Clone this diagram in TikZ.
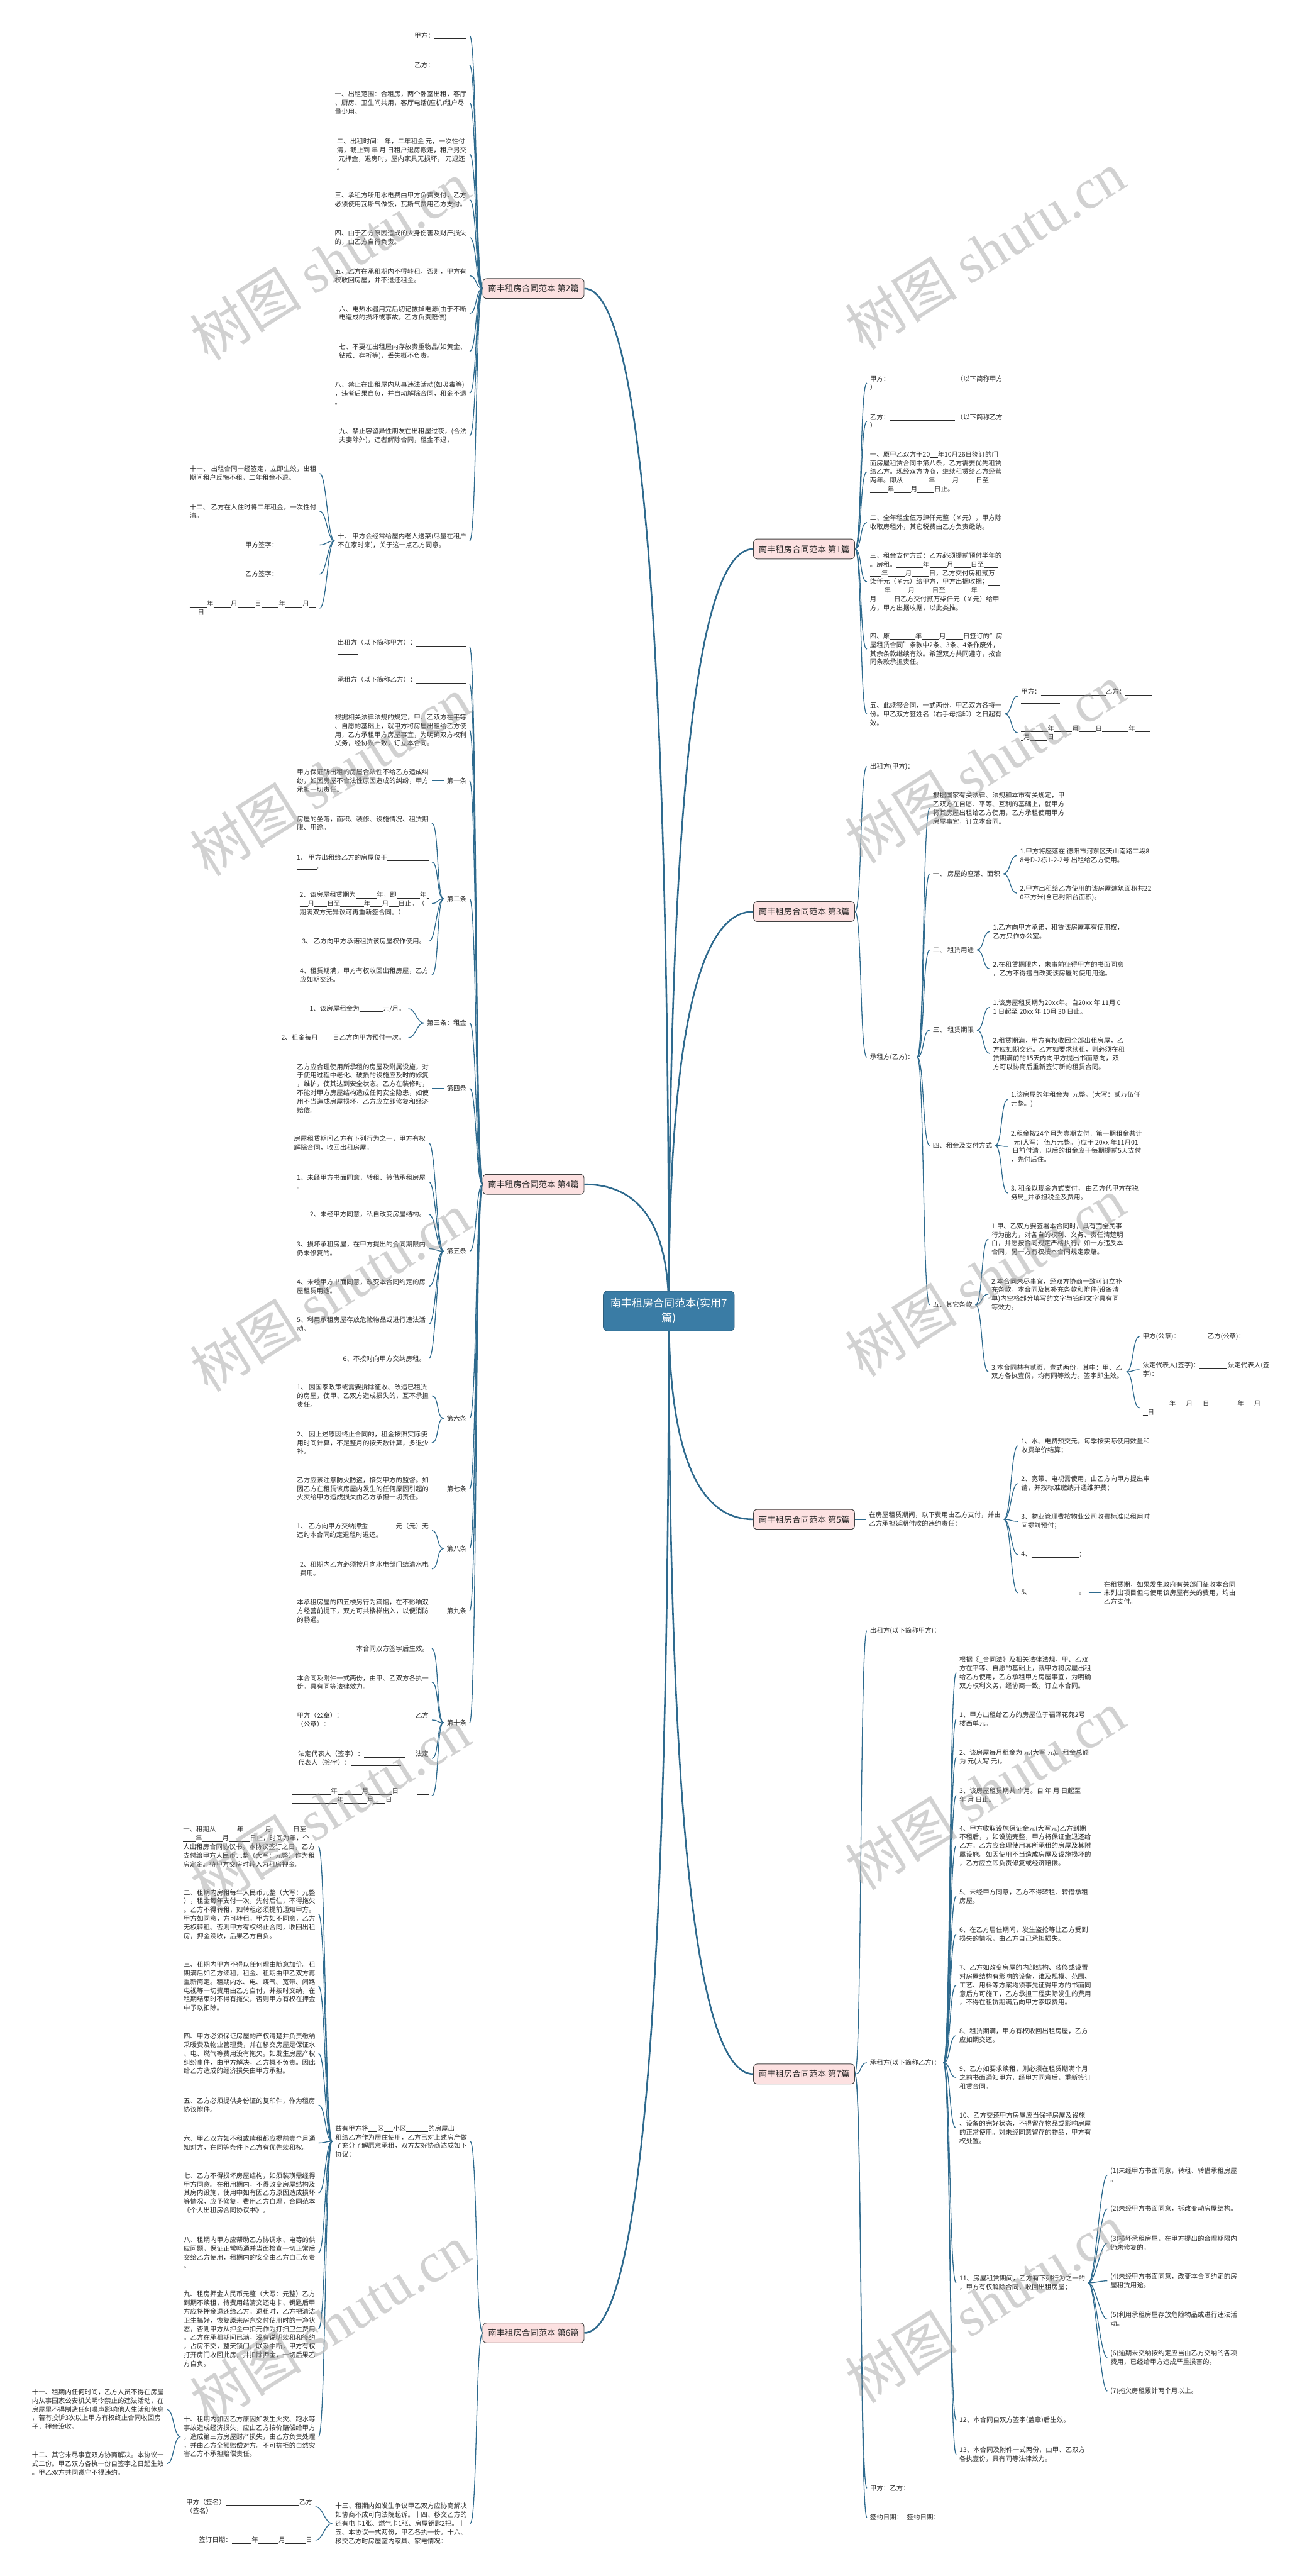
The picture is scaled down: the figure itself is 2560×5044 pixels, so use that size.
\documentclass[tikz,border=0pt]{standalone}
\usepackage{fontspec}
\setmainfont{Noto Sans CJK SC}
\newfontfamily\wmserif{Liberation Serif}
\usetikzlibrary{calc}
\pgfdeclarelayer{bg}
\pgfsetlayers{bg,main}
\definecolor{linec}{HTML}{2E6A8E}
\definecolor{pinkc}{HTML}{FCE1E1}
\definecolor{bluec}{HTML}{3A7CA5}
\definecolor{textc}{HTML}{2B2B2B}
\definecolor{wmc}{HTML}{9A9A9A}
\newcommand\bl[1]{\rule[-2pt]{#1pt}{0.8pt}}
\newcommand\lk[2]{\draw[conn] (#1.west) .. controls +(-14,0) and +(14,0) .. (#2.east);}
\newcommand\rk[2]{\draw[conn] (#1.east) .. controls +(14,0) and +(-14,0) .. (#2.west);}
\newcommand\cnl[1]{\draw[mconn] (#1.east) .. controls ($(#1.east)!0.667!(#1.east -| cc.center)$) and ($(cc.center)!0.667!(#1.east -| cc.center)$) .. (cc.center);}
\newcommand\cnr[1]{\draw[mconn] (#1.west) .. controls ($(#1.west)!0.667!(#1.west -| cc.center)$) and ($(cc.center)!0.667!(#1.west -| cc.center)$) .. (cc.center);}
\tikzset{
  txt/.style={font=\fontsize{12.9}{17}\selectfont, text=textc, align=left, inner xsep=6pt, inner ysep=1pt},
  lft/.style={txt, anchor=east},
  rgt/.style={txt, anchor=west},
  branch/.style={draw=black!75, line width=1.2pt, fill=pinkc, rounded corners=7pt, minimum width=198pt, minimum height=39pt, inner sep=4pt, font=\fontsize{16.5}{20}\selectfont, text=black!85},
  cnode/.style={fill=bluec, draw=bluec!75!black, line width=1pt, rounded corners=8pt, text=white, align=center, inner xsep=14pt, inner ysep=14pt, font=\fontsize{21}{28}\selectfont},
  conn/.style={draw=linec, line width=1.6pt},
  mconn/.style={draw=linec, line width=3.2pt},
  wm/.style={text=wmc, opacity=0.45, rotate=32, font=\fontsize{110}{120}\selectfont}
}
\begin{document}
\begin{tikzpicture}[x=1pt,y=-1pt]
\useasboundingbox (0,0) rectangle (2560,5044);
\begin{pgfonlayer}{bg}
\fill[white] (0,0) rectangle (2560,5044);
\end{pgfonlayer}
% ---------- centre and branches
\node[cnode] (cc) at (1310,2567) {南丰租房合同范本(实用7\\篇)};
\node[branch] (b2) at (1045,565) {南丰租房合同范本 第2篇};
\node[branch] (b4) at (1045,2319) {南丰租房合同范本 第4篇};
\node[branch] (b6) at (1045,4568) {南丰租房合同范本 第6篇};
\node[branch] (b1) at (1575,1075) {南丰租房合同范本 第1篇};
\node[branch] (b3) at (1575,1785) {南丰租房合同范本 第3篇};
\node[branch] (b5) at (1575,2975) {南丰租房合同范本 第5篇};
\node[branch] (b7) at (1575,4061) {南丰租房合同范本 第7篇};
% ---------- 第2篇
\node[lft] (a1) at (920,70) {甲方：\bl{63}};
\node[lft] (a2) at (920,128) {乙方：\bl{63}};
\node[lft] (a3) at (920,201) {一、出租范围：合租房，两个卧室出租，客厅\\、厨房、卫生间共用，客厅电话(座机)租户尽\\量少用。};
\node[lft] (a4) at (920,302) {二、出租时间： 年，二年租金 元，一次性付\\清，截止到 年 月 日租户退房搬走，租户另交\\~元押金，退房时，屋内家具无损坏， 元退还\\。};
\node[lft] (a5) at (920,391) {三、承租方所用水电费由甲方负责支付，乙方\\必须使用瓦斯气做饭，瓦斯气费用乙方支付。};
\node[lft] (a6) at (920,465) {四、由于乙方原因造成的人身伤害及财产损失\\的，由乙方自行负责。};
\node[lft] (a7) at (920,540) {五、乙方在承租期内不得转租，否则，甲方有\\权收回房屋，并不退还租金。};
\node[lft] (a8) at (920,614) {六、电热水器用完后切记拔掉电源(由于不断\\电造成的损坏或事故，乙方负责赔偿)};
\node[lft] (a9) at (920,688) {七、不要在出租屋内存放贵重物品(如黄金、\\钻戒、存折等)，丢失概不负责。};
\node[lft] (a10) at (920,770) {八、禁止在出租屋内从事违法活动(如吸毒等)\\，违者后果自负，并自动解除合同，租金不退\\。};
\node[lft] (a11) at (920,853) {九、禁止容留异性朋友在出租屋过夜，(合法\\夫妻除外)，违者解除合同，租金不退，};
\node[lft] (a12) at (920,1059) {十、 甲方会经常给屋内老人送菜(尽量在租户\\不在家时来)，关于这一点乙方同意。};
\node[lft] (a13) at (626,927) {十一、 出租合同一经签定，立即生效，出租\\期间租户反悔不租，二年租金不退。};
\node[lft] (a14) at (626,1001) {十二、 乙方在入住时将二年租金，一次性付\\清。};
\node[lft] (a15) at (626,1067) {甲方签字：\bl{75}};
\node[lft] (a16) at (626,1124) {乙方签字：\bl{75}};
\node[lft] (a17) at (626,1191) {\bl{34}年\bl{34}月\bl{34}日\bl{34}年\bl{34}月\bl{14}\\\bl{16}日};
% ---------- 第4篇
\node[lft] (d1) at (920,1267) {出租方（以下简称甲方）：\bl{98}\\\bl{40}};
\node[lft] (d2) at (920,1340) {承租方（以下简称乙方）：\bl{98}\\\bl{40}};
\node[lft] (d3) at (920,1430) {根据相关法律法规的规定，甲、乙双方在平等\\、自愿的基础上，就甲方将房屋出租给乙方使\\用，乙方承租甲方房屋事宜，为明确双方权利\\义务，经协议一致，订立本合同。};
\node[lft] (t1) at (920,1529) {第一条};
\node[lft] (t2) at (920,1760) {第二条};
\node[lft] (t3) at (920,2003) {第三条：租金};
\node[lft] (t4) at (920,2131) {第四条};
\node[lft] (t5) at (920,2450) {第五条};
\node[lft] (t6) at (920,2777) {第六条};
\node[lft] (t7) at (920,2915) {第七条};
\node[lft] (t8) at (920,3032) {第八条};
\node[lft] (t9) at (920,3154) {第九条};
\node[lft] (t10) at (920,3373) {第十条};
\node[lft] (t1a) at (846,1529) {甲方保证所出租的房屋合法性不给乙方造成纠\\纷，如因房屋不合法性原因造成的纠纷，甲方\\承担一切责任。};
\node[lft] (t2a) at (846,1612) {房屋的坐落，面积、装修、设施情况、租赁期\\限、用途。};
\node[lft] (t2b) at (846,1688) {1、 甲方出租给乙方的房屋位于\bl{81}\\\bl{40}。};
\node[lft] (t2c) at (846,1769) {2、该房屋租赁期为\bl{41}年，即\bl{46}年\bl{4}\\\bl{16}月\bl{25}日至\bl{46}年\bl{23}月\bl{19}日止。（\\期满双方无异议可再重新签合同。）};
\node[lft] (t2d) at (840,1843) {3、 乙方向甲方承诺租赁该房屋权作使用。};
\node[lft] (t2e) at (846,1909) {4、租赁期满，甲方有权收回出租房屋，乙方\\应如期交还。};
\node[lft] (t3a) at (800,1975) {1、该房屋租金为\bl{46}元/月。};
\node[lft] (t3b) at (800,2032) {2、租金每月\bl{29}日乙方向甲方预付一次。};
\node[lft] (t4a) at (846,2131) {乙方应合理使用所承租的房屋及附属设施，对\\于使用过程中老化、破损的设施应及时的修复\\，维护，使其达到安全状态。乙方在装修时，\\不能对甲方房屋结构造成任何安全隐患，如使\\用不当造成房屋损坏，乙方应立即修复和经济\\赔偿。};
\node[lft] (t5a) at (840,2238) {房屋租赁期间乙方有下列行为之一，甲方有权\\解除合同，收回出租房屋。};
\node[lft] (t5b) at (840,2314) {1、未经甲方书面同意，转租、转借承租房屋\\。};
\node[lft] (t5c) at (840,2378) {2、未经甲方同意，私自改变房屋结构。};
\node[lft] (t5d) at (840,2445) {3、损坏承租房屋，在甲方提出的合同期限内\\仍未修复的。};
\node[lft] (t5e) at (840,2519) {4、未经甲方书面同意，改变本合同约定的房\\屋租赁用途。};
\node[lft] (t5f) at (840,2593) {5、利用承租房屋存放危险物品或进行违法活\\动。};
\node[lft] (t5g) at (840,2660) {6、不按时向甲方交纳房租。};
\node[lft] (t6a) at (846,2733) {1、 因国家政策或需要拆除征收、改造已租赁\\的房屋，使甲、乙双方造成损失的，互不承担\\责任。};
\node[lft] (t6b) at (846,2825) {2、 因上述原因终止合同的，租金按照实际使\\用时间计算，不足整月的按天数计算，多退少\\补。};
\node[lft] (t7a) at (846,2915) {乙方应该注意防火防盗，接受甲方的监督。如\\因乙方在租赁该房屋内发生的任何原因引起的\\火灾给甲方造成损失由乙方承担一切责任。};
\node[lft] (t8a) at (846,2997) {1、 乙方向甲方交纳押金 \bl{52}元（元）无\\违约本合同约定退租时退还。};
\node[lft] (t8b) at (846,3072) {2、租期内乙方必须按月向水电部门结清水电\\费用。};
\node[lft] (t9a) at (846,3154) {本承租房屋的四五楼另行为宾馆，在不影响双\\方经营前提下，双方可共楼梯出入，以便消防\\的畅通。};
\node[lft] (t10a) at (846,3228) {本合同双方签字后生效。};
\node[lft] (t10b) at (846,3294) {本合同及附件一式两份，由甲、乙双方各执一\\份。具有同等法律效力。};
\node[lft] (t10c) at (846,3368) {甲方（公章）：\bl{122}\hspace{20pt}乙方\\（公章）：\bl{133}};
\node[lft] (t10d) at (846,3443) {法定代表人（签字）：\bl{81}\hspace{20pt}法定\\代表人（签字）：\bl{99}};
\node[lft] (t10e) at (846,3516) {\bl{75}年\bl{48}月\bl{46}日\hspace{36pt}\bl{23}\\\bl{87}年\bl{46}月\bl{23}日};
% ---------- 第6篇
\node[lft] (f1) at (921,4193) {兹有甲方将\bl{18}区\bl{18}小区\bl{43}的房屋出\\租给乙方作为居住使用，乙方已对上述房产做\\了充分了解愿意承租，双方友好协商达成如下\\协议：};
\node[lft] (f2) at (921,4941) {十三、租期内如发生争议甲乙双方应协商解决\\如协商不成可向法院起诉。十四、移交乙方的\\还有电卡1张、燃气卡1张、房屋钥匙2把。十\\五、本协议一式两份，甲乙各执一份。十六、\\移交乙方时房屋室内家具、家电情况：};
\node[lft] (g1) at (624,3616) {一、租期从\bl{41}年\bl{42}月\bl{42}日至\bl{18}\\\bl{24}年\bl{40}月\bl{41}日止，时间为年，个\\人出租房合同协议书。本协议签订之日，乙方\\支付给甲方人民币元整（大写：元整）作为租\\房定金。待甲方交房时转入为租房押金。};
\node[lft] (g2) at (624,3748) {二、租期内房租每年人民币元整（大写：元整\\），租金每年支付一次，先付后住，不得拖欠\\。乙方不得转租，如转租必须提前通知甲方。\\甲方如同意，方可转租。甲方如不同意，乙方\\无权转租。否则甲方有权终止合同，收回出租\\房，押金没收，后果乙方自负。};
\node[lft] (g3) at (624,3889) {三、租期内甲方不得以任何理由随意加价。租\\期满后如乙方续租，租金、租期由甲乙双方再\\重新商定。租期内水、电、煤气、宽带、闭路\\电视等一切费用由乙方自付，并按时交纳，在\\租期结束时不得有拖欠，否则甲方有权在押金\\中予以扣除。};
\node[lft] (g4) at (624,4021) {四、甲方必须保证房屋的产权清楚并负责缴纳\\采暖费及物业管理费，并在移交房屋是保证水\\、电、燃气等费用没有拖欠。如发生房屋产权\\纠纷事件，由甲方解决，乙方概不负责。因此\\给乙方造成的经济损失由甲方承担。};
\node[lft] (g5) at (624,4122) {五、乙方必须提供身份证的复印件，作为租房\\协议附件。};
\node[lft] (g6) at (624,4196) {六、甲乙双方如不租或续租都应提前壹个月通\\知对方，在同等条件下乙方有优先续租权。};
\node[lft] (g7) at (624,4294) {七、乙方不得损坏房屋结构，如须装璜需经得\\甲方同意。在租用期内，不得改变房屋结构及\\其房内设施，使用中如有因乙方原因造成损坏\\等情况，应予修复，费用乙方自理，合同范本\\《个人出租房合同协议书》。};
\node[lft] (g8) at (624,4411) {八、租期内甲方应帮助乙方协调水、电等的供\\应问题，保证正常畅通并当面检查一切正常后\\交给乙方使用，租期内的安全由乙方自己负责\\。};
\node[lft] (g9) at (624,4560) {九、租房押金人民币元整（大写：元整）乙方\\到期不续租，待费用结清交还电卡、钥匙后甲\\方应将押金退还给乙方。退租时，乙方把清洁\\卫生搞好，恢复原来房东交付使用时的干净状\\态，否则甲方从押金中扣元作为打扫卫生费用\\。乙方在承租期间已满，没有说明续租和签约\\，占房不交，整天锁门，联系中断，甲方有权\\打开房门收回此房，并扣除押金，一切后果乙\\方自负。};
\node[lft] (g10) at (624,4771) {十、租期内如因乙方原因如发生火灾、跑水等\\事故造成经济损失，应由乙方按价赔偿给甲方\\，造成第三方房屋财产损失，由乙方负责处理\\，并由乙方全额赔偿对方。不可抗拒的自然灾\\害乙方不承担赔偿责任。};
\node[lft] (h1) at (327,4718) {十一、租期内任何时间，乙方人员不得在房屋\\内从事国家公安机关明令禁止的违法活动，在\\房屋里不得制造任何噪声影响他人生活和休息\\，若有投诉3次以上甲方有权终止合同收回房\\子，押金没收。};
\node[lft] (h2) at (327,4824) {十二、其它未尽事宜双方协商解决。本协议一\\式二份。甲乙双方各执一份自签字之日起生效\\。甲乙双方共同遵守不得违约。};
\node[lft] (k1) at (618,4908) {甲方（签名）\bl{144}乙方\\（签名）\bl{146}};
\node[lft] (k2) at (618,4974) {签订日期：\bl{39}年\bl{40}月\bl{40}日};
% ---------- 第1篇
\node[rgt] (p1) at (1698,750) {甲方：\bl{128} （以下简称甲方\\）};
\node[rgt] (p2) at (1698,825) {乙方：\bl{128} （以下简称乙方\\）};
\node[rgt] (p3) at (1698,924) {一、原甲乙双方于20\bl{15}年10月26日签订的门\\面房屋租赁合同中第八条，乙方需要优先租赁\\给乙方。现经双方协商，继续租赁给乙方经营\\两年。即从\bl{50}年\bl{34}月\bl{33}日至\bl{16}\\\bl{34}年\bl{33}月\bl{33}日止。};
\node[rgt] (p4) at (1698,1023) {二、全年租金伍万肆仟元整（￥元），甲方除\\收取房租外，其它税费由乙方负责缴纳。};
\node[rgt] (p5) at (1698,1139) {三、租金支付方式：乙方必须提前预付半年的\\。房租。\bl{52}年\bl{34}月\bl{34}日至\bl{28}\\\bl{22}年\bl{34}月\bl{34}日，乙方交付房租贰万\\柒仟元（￥元）给甲方，甲方出据收据；\bl{22}\\\bl{28}年\bl{34}月\bl{34}日至\bl{50}年\bl{34}\\月\bl{34}日乙方交付贰万柒仟元（￥元）给甲\\方，甲方出据收据，以此类推。};
\node[rgt] (p6) at (1698,1271) {四、原\bl{50}年\bl{34}月\bl{34}日签订的"房\\屋租赁合同"条款中2条、3条、4条作废外，\\其余条款继续有效。希望双方共同遵守，按合\\同条款承担责任。};
\node[rgt] (p7) at (1698,1398) {五、此续签合同，一式两份，甲乙双方各持一\\份。甲乙双方签姓名（右手母指印）之日起有\\效。};
\node[rgt] (p7a) at (1994,1363) {甲方：\bl{127}乙方：\bl{53}\\\bl{76}};
\node[rgt] (p7b) at (1994,1435) {\bl{52}年\bl{35}月\bl{33}日\bl{52}年\bl{28}\\\bl{5}月\bl{34}日};
% ---------- 第3篇
\node[rgt] (q1) at (1698,1501) {出租方(甲方)：};
\node[rgt] (q2) at (1698,2070) {承租方(乙方)：};
\node[rgt] (q3) at (1821,1583) {根据国家有关法律、法规和本市有关规定，甲\\乙双方在自愿、平等、互利的基础上，就甲方\\将其房屋出租给乙方使用，乙方承租使用甲方\\房屋事宜，订立本合同。};
\node[rgt] (q4) at (1821,1711) {一、 房屋的座落、面积};
\node[rgt] (q5) at (1821,1860) {二、 租赁用途};
\node[rgt] (q6) at (1821,2017) {三、 租赁期限};
\node[rgt] (q7) at (1821,2243) {四、租金及支付方式};
\node[rgt] (q8) at (1821,2555) {五、其它条款};
\node[rgt] (q4a) at (1992,1675) {1.甲方将座落在 德阳市河东区天山南路二段8\\8号D-2栋1-2-2号 出租给乙方使用。};
\node[rgt] (q4b) at (1992,1749) {2.甲方出租给乙方使用的该房屋建筑面积共22\\0平方米(含已封阳台面积)。};
\node[rgt] (q5a) at (1939,1824) {1.乙方向甲方承诺，租赁该房屋享有使用权，\\乙方只作办公室。};
\node[rgt] (q5b) at (1939,1897) {2.在租赁期限内，未事前征得甲方的书面同意\\，乙方不得擅自改变该房屋的使用用途。};
\node[rgt] (q6a) at (1939,1972) {1.该房屋租赁期为20xx年。自20xx 年 11月 0\\1 日起至 20xx 年 10月 30 日止。};
\node[rgt] (q6b) at (1939,2063) {2.租赁期满，甲方有权收回全部出租房屋，乙\\方应如期交还。乙方如要求续租，则必须在租\\赁期满前的15天内向甲方提出书面意向，双\\方可以协商后重新签订新的租赁合同。};
\node[rgt] (q7a) at (1974,2153) {1.该房屋的年租金为\hspace{0.5em}元整。(大写：贰万伍仟\\元整。)};
\node[rgt] (q7b) at (1974,2245) {2.租金按24个月为壹期支付，第一期租金共计\\~~元(大写： 伍万元整。 )应于 20xx 年11月01\\~日前付清，以后的租金应于每期提前5天支付\\，先付后住。};
\node[rgt] (q7c) at (1974,2336) {3. 租金以现金方式支付， 由乙方代甲方在税\\务局\_并承担税金及费用。};
\node[rgt] (q8a) at (1936,2426) {1.甲、乙双方要签署本合同时，具有完全民事\\行为能力，对各自的权利、义务、责任清楚明\\白，并愿按合同规定严格执行，如一方违反本\\合同，另一方有权按本合同规定索赔。};
\node[rgt] (q8b) at (1936,2534) {2.本合同未尽事宜，经双方协商一致可订立补\\充条款，本合同及其补充条款和附件(设备清\\单)内空格部分填写的文字与铅印文字具有同\\等效力。};
\node[rgt] (q8c) at (1936,2686) {3.本合同共有贰页，壹式两份，其中：甲、乙\\双方各执壹份，均有同等效力。签字即生效。};
\node[rgt] (q9a) at (2232,2617) {甲方(公章)：\bl{51} 乙方(公章)：\bl{52}};
\node[rgt] (q9b) at (2232,2682) {法定代表人(签字)：\bl{52} 法定代表人(签\\字)：\bl{52}};
\node[rgt] (q9c) at (2232,2757) {\bl{52}年\bl{20}月\bl{20}日 \bl{52}年\bl{20}月\bl{9}\\\bl{10}日};
% ---------- 第5篇
\node[rgt] (r1) at (1696,2975) {在房屋租赁期间，以下费用由乙方支付，并由\\乙方承担延期付款的违约责任：};
\node[rgt] (r2) at (1994,2831) {1、水、电费预交元，每季按实际使用数量和\\收费单价结算；};
\node[rgt] (r3) at (1994,2905) {2、宽带、电视需使用，由乙方向甲方提出申\\请，并按标准缴纳开通维护费；};
\node[rgt] (r4) at (1994,2979) {3、物业管理费按物业公司收费标准以租用时\\间提前预付；};
\node[rgt] (r5) at (1994,3044) {4、\bl{93}；};
\node[rgt] (r6) at (1994,3119) {5、\bl{93}。};
\node[rgt] (r7) at (2156,3119) {在租赁期，如果发生政府有关部门征收本合同\\未列出项目但与使用该房屋有关的费用，均由\\乙方支付。};
% ---------- 第7篇
\node[rgt] (s1) at (1698,3193) {出租方(以下简称甲方)：};
\node[rgt] (s2) at (1698,4039) {承租方(以下简称乙方)：};
\node[rgt] (s3) at (1698,4872) {甲方：乙方：};
\node[rgt] (s4) at (1698,4929) {签约日期：\hspace{0.6em}签约日期：};
\node[rgt] (s5) at (1873,3275) {根据《\_合同法》及相关法律法规，甲、乙双\\方在平等、自愿的基础上，就甲方将房屋出租\\给乙方使用，乙方承租甲方房屋事宜，为明确\\双方权利义务，经协商一致，订立本合同。};
\node[rgt] (s6) at (1873,3366) {1、甲方出租给乙方的房屋位于福泽花苑2号\\楼西单元。};
\node[rgt] (s7) at (1873,3441) {2、该房屋每月租金为 元(大写 元)。租金总额\\为 元(大写 元)。};
\node[rgt] (s8) at (1873,3515) {3、该房屋租赁期共 个月。自 年 月 日起至\\年 月 日止。};
\node[rgt] (s9) at (1873,3614) {4、甲方收取设施保证金元(大写元)乙方到期\\不租后，，如设施完整，甲方将保证金退还给\\乙方。乙方应合理使用其所承租的房屋及其附\\属设施。如因使用不当造成房屋及设施损坏的\\，乙方应立即负责修复或经济赔偿。};
\node[rgt] (s10) at (1873,3713) {5、未经甲方同意，乙方不得转租、转借承租\\房屋。};
\node[rgt] (s11) at (1873,3787) {6、在乙方居住期间，发生盗抢等让乙方受到\\损失的情况，由乙方自己承担损失。};
\node[rgt] (s12) at (1873,3887) {7、乙方如改变房屋的内部结构、装修或设置\\对房屋结构有影响的设备，谁及规模、范围、\\工艺、用料等方案均须事先征得甲方的书面同\\意后方可施工，乙方承担工程实际发生的费用\\，不得在租赁期满后向甲方索取费用。};
\node[rgt] (s13) at (1873,3986) {8、租赁期满，甲方有权收回出租房屋，乙方\\应如期交还。};
\node[rgt] (s14) at (1873,4068) {9、乙方如要求续租，则必须在租赁期满个月\\之前书面通知甲方，经甲方同意后，重新签订\\租赁合同。};
\node[rgt] (s15) at (1873,4167) {10、乙方交还甲方房屋应当保持房屋及设施\\、设备的完好状态，不得留存物品或影响房屋\\的正常使用。对未经同意留存的物品，甲方有\\权处置。};
\node[rgt] (s16) at (1873,4470) {11、房屋租赁期间，乙方有下列行为之一的\\，甲方有权解除合同，收回出租房屋；};
\node[rgt] (s17) at (1873,4739) {12、本合同自双方签字(盖章)后生效。};
\node[rgt] (s18) at (1873,4806) {13、本合同及附件一式两份，由甲、乙双方\\各执壹份，具有同等法律效力。};
\node[rgt] (u1) at (2169,4259) {(1)未经甲方书面同意，转租、转借承租房屋\\。};
\node[rgt] (u2) at (2169,4325) {(2)未经甲方书面同意，拆改变动房屋结构。};
\node[rgt] (u3) at (2169,4392) {(3)损坏承租房屋，在甲方提出的合理期限内\\仍未修复的。};
\node[rgt] (u4) at (2169,4466) {(4)未经甲方书面同意，改变本合同约定的房\\屋租赁用途。};
\node[rgt] (u5) at (2169,4541) {(5)利用承租房屋存放危险物品或进行违法活\\动。};
\node[rgt] (u6) at (2169,4616) {(6)逾期未交纳按约定应当由乙方交纳的各项\\费用，已经给甲方造成严重损害的。};
\node[rgt] (u7) at (2169,4682) {(7)拖欠房租累计两个月以上。};
% ---------- connectors
\begin{pgfonlayer}{bg}
\cnl{b2} \cnl{b4} \cnl{b6}
\cnr{b1} \cnr{b3} \cnr{b5} \cnr{b7}
\foreach \c in {a1,a2,a3,a4,a5,a6,a7,a8,a9,a10,a11,a12} {\lk{b2}{\c}}
\foreach \c in {a13,a14,a15,a16,a17} {\lk{a12}{\c}}
\foreach \c in {d1,d2,d3,t1,t2,t3,t4,t5,t6,t7,t8,t9,t10} {\lk{b4}{\c}}
\lk{t1}{t1a}
\foreach \c in {t2a,t2b,t2c,t2d,t2e} {\lk{t2}{\c}}
\foreach \c in {t3a,t3b} {\lk{t3}{\c}}
\lk{t4}{t4a}
\foreach \c in {t5a,t5b,t5c,t5d,t5e,t5f,t5g} {\lk{t5}{\c}}
\foreach \c in {t6a,t6b} {\lk{t6}{\c}}
\lk{t7}{t7a}
\foreach \c in {t8a,t8b} {\lk{t8}{\c}}
\lk{t9}{t9a}
\foreach \c in {t10a,t10b,t10c,t10d,t10e} {\lk{t10}{\c}}
\foreach \c in {f1,f2} {\lk{b6}{\c}}
\foreach \c in {g1,g2,g3,g4,g5,g6,g7,g8,g9,g10} {\lk{f1}{\c}}
\foreach \c in {h1,h2} {\lk{g10}{\c}}
\foreach \c in {k1,k2} {\lk{f2}{\c}}
\foreach \c in {p1,p2,p3,p4,p5,p6,p7} {\rk{b1}{\c}}
\foreach \c in {p7a,p7b} {\rk{p7}{\c}}
\foreach \c in {q1,q2} {\rk{b3}{\c}}
\foreach \c in {q3,q4,q5,q6,q7,q8} {\rk{q2}{\c}}
\foreach \c in {q4a,q4b} {\rk{q4}{\c}}
\foreach \c in {q5a,q5b} {\rk{q5}{\c}}
\foreach \c in {q6a,q6b} {\rk{q6}{\c}}
\foreach \c in {q7a,q7b,q7c} {\rk{q7}{\c}}
\foreach \c in {q8a,q8b,q8c} {\rk{q8}{\c}}
\foreach \c in {q9a,q9b,q9c} {\rk{q8c}{\c}}
\rk{b5}{r1}
\foreach \c in {r2,r3,r4,r5,r6} {\rk{r1}{\c}}
\rk{r6}{r7}
\foreach \c in {s1,s2,s3,s4} {\rk{b7}{\c}}
\foreach \c in {s5,s6,s7,s8,s9,s10,s11,s12,s13,s14,s15,s16,s17,s18} {\rk{s2}{\c}}
\foreach \c in {u1,u2,u3,u4,u5,u6,u7} {\rk{s16}{\c}}
\end{pgfonlayer}
% ---------- watermarks
\foreach \wx/\wy in {646/510,646/1520,646/2530,646/3540,646/4550,1930/490,1930/1495,1930/2500,1930/3505,1930/4510}
  {\node[wm] at (\wx,\wy) {树图 {\wmserif shutu.cn}};}
\end{tikzpicture}
\end{document}
